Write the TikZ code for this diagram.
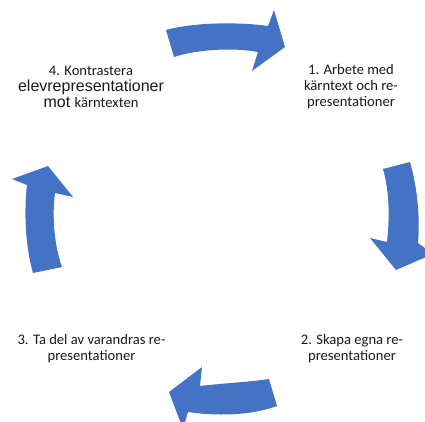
\documentclass[tikz,border=0pt]{standalone}
\usepackage{fontspec}
\setmainfont{Carlito}
\newfontfamily\arialfont{Liberation Sans}
\definecolor{arrowblue}{HTML}{4472C4}
\definecolor{txtgray}{HTML}{1A1A1A}
\begin{document}
\begin{tikzpicture}[x=1pt,y=-1pt,
  cyc/.style={fill=arrowblue,draw=none},
  lbl/.style={align=center,text=txtgray,inner sep=0pt,font=\fontsize{14.6}{16}\selectfont}]
\useasboundingbox (0,0) rectangle (425,421);
\clip (0,0) rectangle (425,421);
% top arrow
\fill[cyc] (166,30) .. controls (195,22) and (240,22) .. (268,26) -- (274,10) -- (285,47) -- (252,71) -- (258,52)
  .. controls (230,47) and (195,50) .. (174,57) -- cycle;
% right arrow
\fill[cyc] (410,162) .. controls (418,190) and (420,220) .. (418,243) -- (433,254) -- (396,270) -- (370,238) -- (387,242)
  .. controls (390,215) and (389,190) .. (383,169) -- cycle;
% bottom arrow
\fill[cyc] (277,406) .. controls (250,416) and (215,416) .. (188,412) -- (183,429) -- (169,392) -- (202,367) -- (200,386)
  .. controls (225,383) and (250,382) .. (269,379) -- cycle;
% left arrow
\fill[cyc] (33,273) .. controls (25,245) and (24,210) .. (27,185) -- (12,179) -- (48,166) -- (73,197) -- (55,193)
  .. controls (52,215) and (54,245) .. (62,267) -- cycle;
% labels
\node[lbl] (n1) at (351,87) {1. Arbete med\\kärntext och re-\\presentationer};
\node[lbl] (n2) at (352,349) {2. Skapa egna re-\\presentationer};
\node[lbl] (n3) at (91.5,349) {3. Ta del av varandras re-\\presentationer};
\node[lbl] (n4) at (91,87) {4. Kontrastera\\{\arialfont\fontsize{16}{16}\selectfont elevrepresentationer}\\{\arialfont\fontsize{16}{16}\selectfont mot }kärntexten};
\end{tikzpicture}
\end{document}
